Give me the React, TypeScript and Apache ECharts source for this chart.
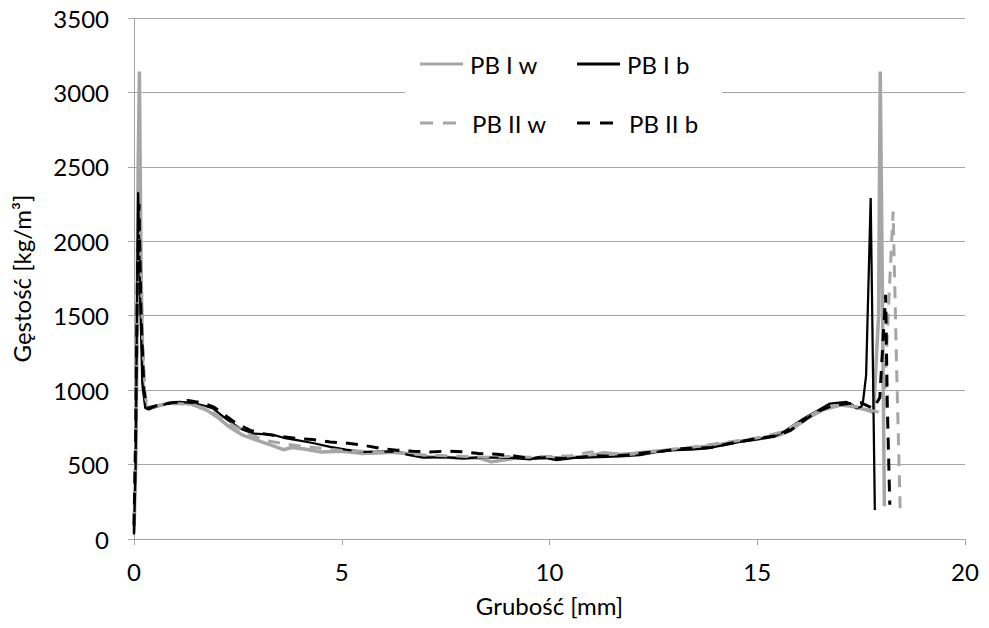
import React, { useEffect, useRef } from "react";
import * as echarts from "echarts";

// Grubość [mm] vs Gęstość [kg/m³]
const pbIw: [number, number][] = [
  [0.0, 40], [0.05, 600], [0.1, 2500], [0.13, 3140], [0.17, 1800], [0.22, 1000], [0.3, 880],
  [0.5, 890], [0.8, 910], [1.1, 915], [1.4, 905], [1.75, 866], [2.0, 820], [2.3, 752],
  [2.6, 700], [2.95, 664], [3.3, 630], [3.6, 600], [3.8, 615], [4.1, 605], [4.5, 585],
  [5.0, 590], [5.5, 575], [6.0, 580], [6.3, 585], [6.7, 570], [7.1, 552], [7.5, 550],
  [7.9, 541], [8.3, 545], [8.6, 518], [8.9, 530], [9.2, 545], [9.6, 540], [9.9, 552],
  [10.2, 545], [10.6, 550], [11.0, 560], [11.3, 580], [11.7, 570], [12.0, 575], [12.5, 590],
  [13.0, 600], [13.5, 615], [14.0, 630], [14.5, 655], [15.0, 670], [15.5, 695], [15.8, 730],
  [16.2, 810], [16.6, 870], [17.0, 900], [17.3, 890], [17.6, 870], [17.8, 850], [17.92, 1500],
  [17.96, 3140], [18.0, 2000], [18.06, 220],
];

const pbIb: [number, number][] = [
  [0.0, 30], [0.04, 500], [0.08, 1800], [0.1, 2330], [0.15, 1600], [0.2, 1050], [0.27, 880],
  [0.35, 870], [0.6, 895], [0.9, 915], [1.1, 921], [1.4, 915], [1.7, 895], [1.9, 877],
  [2.2, 810], [2.55, 742], [2.87, 708], [3.1, 705], [3.35, 699], [3.6, 680], [3.92, 664],
  [4.3, 645], [4.72, 619], [5.1, 600], [5.52, 585], [6.0, 588], [6.32, 585], [6.6, 565],
  [6.96, 547], [7.4, 550], [7.93, 541], [8.3, 548], [8.73, 547], [9.1, 545], [9.53, 535],
  [9.77, 552], [10.17, 530], [10.6, 545], [11.0, 548], [11.38, 552], [11.8, 556], [12.18, 563],
  [12.6, 585], [12.98, 597], [13.4, 600], [13.78, 608], [14.2, 630], [14.58, 652], [15.0, 670],
  [15.39, 687], [15.71, 732], [15.95, 780], [16.19, 821], [16.5, 870], [16.75, 910], [17.15, 921],
  [17.3, 900], [17.39, 877], [17.51, 890], [17.55, 933], [17.62, 1100], [17.73, 2290], [17.83, 195],
];

const pbIIw: [number, number][] = [
  [0.0, 100], [0.05, 800], [0.1, 1800], [0.15, 2100], [0.2, 1400], [0.27, 950], [0.35, 880],
  [0.7, 900], [1.0, 910], [1.4, 905], [1.8, 870], [2.1, 810], [2.4, 760], [2.8, 700],
  [3.2, 660], [3.6, 640], [4.0, 625], [4.5, 610], [5.0, 595], [5.5, 590], [6.0, 585],
  [6.5, 575], [7.0, 565], [7.5, 560], [8.0, 555], [8.5, 550], [9.0, 555], [9.5, 550],
  [10.0, 555], [10.5, 560], [11.0, 585], [11.3, 575], [11.8, 565], [12.2, 575], [12.6, 590],
  [13.0, 605], [13.5, 620], [14.0, 640], [14.4, 655], [14.8, 670], [15.2, 690], [15.6, 720],
  [16.0, 780], [16.4, 850], [16.8, 890], [17.2, 900], [17.5, 880], [17.8, 860], [18.05, 845],
  [18.15, 1500], [18.27, 2200], [18.35, 1200], [18.44, 195],
];

const pbIIb: [number, number][] = [
  [0.0, 90], [0.04, 700], [0.08, 1700], [0.12, 2250], [0.17, 1500], [0.24, 1000], [0.31, 877],
  [0.6, 900], [0.9, 915], [1.11, 921], [1.3, 930], [1.51, 921], [1.7, 910], [1.91, 888],
  [2.2, 830], [2.47, 775], [2.8, 730], [3.11, 708], [3.5, 690], [3.92, 675], [4.3, 668],
  [4.72, 652], [5.1, 645], [5.52, 630], [5.9, 610], [6.32, 597], [6.7, 590], [7.12, 585],
  [7.5, 590], [7.93, 585], [8.3, 575], [8.73, 569], [9.1, 560], [9.53, 541], [9.9, 545],
  [10.3, 540], [10.7, 548], [11.1, 560], [11.5, 556], [11.9, 565], [12.3, 580], [12.7, 590],
  [13.1, 605], [13.5, 610], [13.9, 615], [14.3, 640], [14.7, 660], [15.1, 680], [15.5, 695],
  [15.8, 730], [16.1, 790], [16.4, 850], [16.8, 895], [17.2, 910], [17.5, 915], [17.8, 877],
  [17.95, 950], [18.02, 1300], [18.09, 1640], [18.13, 900], [18.19, 230],
];

const seriesNames = ["PB I w", "PB I b", "PB II w", "PB II b"];
const xTicks = { min: 0, max: 20, interval: 5 };
const yTicks = { min: 0, max: 3500, interval: 500 };

const FONT = "Lato, 'Open Sans', sans-serif";
const FS = 24;
const GRAY = "#a6a6a6";
const SOLID_ICON = "path://M0,0H43V3H0Z";
const DASH_ICON = "path://M0,0H13V3H0Z M23,0H36V3H23Z";

export default function App() {
  const ref = useRef<HTMLDivElement>(null);
  useEffect(() => {
    if (!ref.current) return;
    const chart = echarts.init(ref.current, undefined, { renderer: "svg" });
    const legendBase = {
      orient: "horizontal" as const,
      itemHeight: 3,
      itemGap: 0,
      padding: 0,
      symbolKeepAspect: true,
    };
    const solidLegend = {
      ...legendBase,
      itemWidth: 43,
      textStyle: { fontFamily: FONT, fontSize: FS, color: "#000", padding: [0, 0, 0, 2] },
    };
    const dashLegend = {
      ...legendBase,
      itemWidth: 36,
      textStyle: { fontFamily: FONT, fontSize: FS, color: "#000", padding: [0, 0, 0, 11] },
    };
    chart.setOption({
      animation: false,
      backgroundColor: "#fff",
      textStyle: { fontFamily: FONT },
      grid: { left: 134, right: 24, top: 18, bottom: 89, containLabel: false },
      graphic: [
        {
          type: "rect",
          z: 1,
          shape: { x: 405, y: 35, width: 317, height: 115 },
          style: { fill: "#fff" },
        },
      ],
      legend: [
        { ...solidLegend, data: [{ name: seriesNames[0], icon: SOLID_ICON }], left: 420, top: 52 },
        { ...solidLegend, data: [{ name: seriesNames[1], icon: SOLID_ICON }], left: 577, top: 52 },
        { ...dashLegend, data: [{ name: seriesNames[2], icon: DASH_ICON }], left: 420, top: 111 },
        { ...dashLegend, data: [{ name: seriesNames[3], icon: DASH_ICON }], left: 577, top: 111 },
      ],
      xAxis: {
        type: "value",
        min: xTicks.min,
        max: xTicks.max,
        interval: xTicks.interval,
        name: "Grubość [mm]",
        nameLocation: "middle",
        nameGap: 54,
        nameTextStyle: { fontFamily: FONT, fontSize: FS, color: "#000" },
        axisLine: { show: true, lineStyle: { color: GRAY, width: 1 } },
        axisTick: { show: true, length: 6, lineStyle: { color: GRAY } },
        axisLabel: { fontFamily: FONT, fontSize: FS, color: "#000", margin: 20 },
        splitLine: { show: false },
      },
      yAxis: {
        type: "value",
        min: yTicks.min,
        max: yTicks.max,
        interval: yTicks.interval,
        name: "Gęstość [kg/m³]",
        nameLocation: "middle",
        nameGap: 101,
        nameRotate: 90,
        nameTextStyle: { fontFamily: FONT, fontSize: FS, color: "#000" },
        axisLine: { show: true, lineStyle: { color: GRAY, width: 1 } },
        axisTick: { show: true, length: 6, lineStyle: { color: GRAY } },
        axisLabel: {
          fontFamily: FONT,
          fontSize: FS,
          color: "#000",
          margin: 25,
          formatter: (v: number) => String(v),
        },
        splitLine: { show: true, lineStyle: { color: GRAY, width: 1 } },
      },
      series: [
        {
          name: seriesNames[0],
          type: "line",
          data: pbIw,
          showSymbol: false,
          lineStyle: { color: GRAY, width: 3.5 },
          itemStyle: { color: GRAY },
        },
        {
          name: seriesNames[1],
          type: "line",
          data: pbIb,
          showSymbol: false,
          lineStyle: { color: "#000", width: 2.25 },
          itemStyle: { color: "#000" },
        },
        {
          name: seriesNames[2],
          type: "line",
          data: pbIIw,
          showSymbol: false,
          lineStyle: { color: GRAY, width: 3, type: [12, 9] },
          itemStyle: { color: GRAY },
        },
        {
          name: seriesNames[3],
          type: "line",
          data: pbIIb,
          showSymbol: false,
          lineStyle: { color: "#000", width: 3, type: [12, 9] },
          itemStyle: { color: "#000" },
        },
      ],
    });
    return () => chart.dispose();
  }, []);
  return <div ref={ref} style={{ width: 989, height: 628, position: "absolute", left: 0, top: 0 }} />;
}
